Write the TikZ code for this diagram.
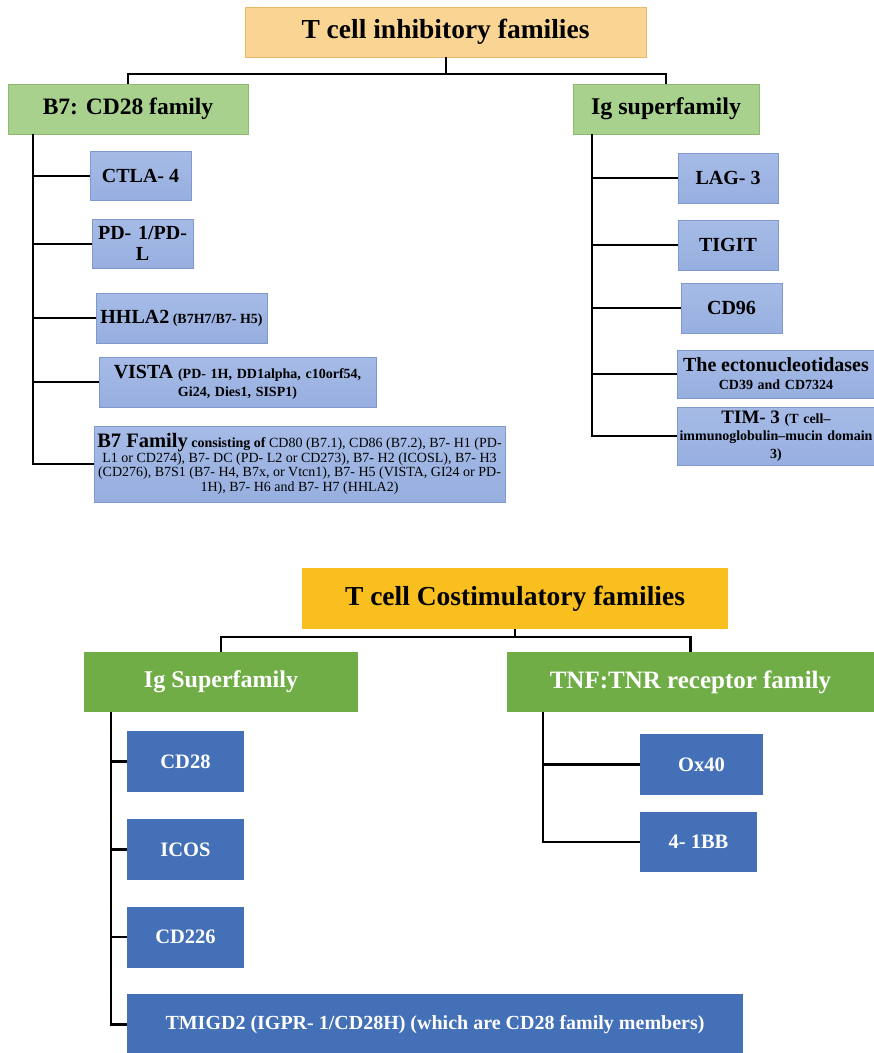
\documentclass[tikz,border=0pt]{standalone}
\usepackage{fontspec}
\setmainfont{Liberation Serif}
\newcommand{\fs}[2]{\fontsize{#1}{#2}\selectfont}
\definecolor{orL}{HTML}{FAD493}
\definecolor{orLb}{HTML}{E9B96A}
\definecolor{grL}{HTML}{A9D18E}
\definecolor{grLb}{HTML}{8CBB6E}
\definecolor{blL}{HTML}{97AFE0}
\definecolor{blLt}{HTML}{A6BBE6}
\definecolor{blLb}{HTML}{7F99CF}
\definecolor{orD}{HTML}{F8BF1F}
\definecolor{grD}{HTML}{70AD47}
\definecolor{blD}{HTML}{4470B8}
\tikzset{
  base/.style={inner sep=1pt, align=center},
  ititle/.style={base, draw=orLb, line width=0.8pt, fill=orL},
  igreen/.style={base, draw=grLb, line width=0.8pt, fill=grL},
  iblue/.style={base, draw=blLb, line width=0.8pt, top color=blLt, bottom color=blL},
  ctitle/.style={base, fill=orD},
  cgreen/.style={base, fill=grD, text=white},
  cblue/.style={base, fill=blD, text=white},
  conn/.style={line width=2pt, black},
  conn2/.style={line width=2.6pt, black},
}
\begin{document}
\begin{tikzpicture}[x=1pt,y=-1pt]
\useasboundingbox (0,0) rectangle (874,1053);
\clip (0,0) rectangle (874,1053);
% ---------------- inhibitory ----------------
\node[ititle, minimum width=401pt, minimum height=50pt, font=\bfseries\fs{27.5}{30}] (ti) at (445.5,32) {T cell inhibitory families};
\node[igreen, minimum width=240pt, minimum height=50pt, font=\bfseries\fs{23.5}{26}] (b7) at (128,109) {B7: CD28 family};
\node[igreen, minimum width=186pt, minimum height=50pt, font=\bfseries\fs{24}{26}] (igs) at (666,109) {Ig superfamily};
\coordinate (j1) at (445.5,74);
\draw[conn] (ti.south) -- (j1) -| (b7.north);
\draw[conn] (j1) -| (igs.north);

\node[iblue, minimum width=101pt, minimum height=49pt, font=\bfseries\fs{20}{22}] (ctla) at (140.5,175.5) {CTLA- 4};
\node[iblue, minimum width=101pt, minimum height=49pt, text width=99pt, font=\bfseries\fs{20}{21}] (pdl) at (142.5,243.5) {PD- 1/PD-\\L};
\node[iblue, minimum width=171pt, minimum height=50pt, font=\bfseries\fs{14}{16}] (hhla) at (181.5,318) {{\fs{20}{20}HHLA2} (B7H7/B7- H5)};
\node[iblue, minimum width=277pt, minimum height=50pt, text width=273pt, font=\bfseries\fs{14}{18}] (vista) at (237.5,382) {{\fs{20}{18}VISTA} (PD- 1H, DD1alpha, c10orf54,\\Gi24, Dies1, SISP1)};
\node[iblue, minimum width=411pt, minimum height=76pt, font=\fs{14}{14.5}] (b7f) at (299.5,464) {{\bfseries\fs{20.5}{14.5}B7 Family} {\bfseries consisting of} CD80 (B7.1), CD86 (B7.2), B7- H1 (PD-\\L1 or CD274), B7- DC (PD- L2 or CD273), B7- H2 (ICOSL), B7- H3\\(CD276), B7S1 (B7- H4, B7x, or Vtcn1), B7- H5 (VISTA, GI24 or PD-\\1H), B7- H6 and B7- H7 (HHLA2)};
\coordinate (v1) at (33,134);
\draw[conn] (v1) |- (b7f.west);
\draw[conn] (v1 |- ctla.west) -- (ctla.west);
\draw[conn] (v1 |- pdl.west) -- (pdl.west);
\draw[conn] (v1 |- hhla.west) -- (hhla.west);
\draw[conn] (v1 |- vista.west) -- (vista.west);

\node[iblue, minimum width=100pt, minimum height=50pt, font=\bfseries\fs{20}{22}] (lag) at (728,178) {LAG- 3};
\node[iblue, minimum width=100pt, minimum height=50pt, font=\bfseries\fs{20}{22}] (tigit) at (728,245) {TIGIT};
\node[iblue, minimum width=101pt, minimum height=50pt, font=\bfseries\fs{20}{22}] (cd96) at (731.5,308) {CD96};
\node[iblue, minimum width=198pt, minimum height=48pt, text width=196pt, font=\bfseries\fs{14}{18}] (ecto) at (776,374) {{\fs{20}{18}The ectonucleotidases}\\CD39 and CD7324};
\node[iblue, minimum width=198pt, minimum height=58pt, text width=196pt, font=\bfseries\fs{14}{17.5}] (tim) at (776,436) {{\fs{19}{17.5}TIM- 3} (T cell–\\immunoglobulin–mucin domain\\3)};
\coordinate (v2) at (592,134);
\draw[conn] (v2) |- (tim.west);
\draw[conn] (v2 |- lag.west) -- (lag.west);
\draw[conn] (v2 |- tigit.west) -- (tigit.west);
\draw[conn] (v2 |- cd96.west) -- (cd96.west);
\draw[conn] (v2 |- ecto.west) -- (ecto.west);

% ---------------- costimulatory ----------------
\node[ctitle, minimum width=426pt, minimum height=61pt, font=\bfseries\fs{27.5}{30}] (tc) at (515,598.5) {T cell Costimulatory families};
\node[cgreen, minimum width=274pt, minimum height=60pt, font=\bfseries\fs{24}{26}] (igS) at (221,682) {Ig Superfamily};
\node[cgreen, minimum width=367pt, minimum height=60pt, font=\bfseries\fs{25}{27}] (tnf) at (690.5,682) {TNF:TNR receptor family};
\coordinate (j2) at (515,637);
\draw[conn2] (tc.south) -- (j2) -| (igS.north);
\draw[conn2] (j2) -| (tnf.north);

\node[cblue, minimum width=117pt, minimum height=61pt, font=\bfseries\fs{20.5}{22}] (cd28) at (185.5,761.5) {CD28};
\node[cblue, minimum width=117pt, minimum height=61pt, font=\bfseries\fs{20.5}{22}] (icos) at (185.5,849.5) {ICOS};
\node[cblue, minimum width=117pt, minimum height=61pt, font=\bfseries\fs{20.5}{22}] (cd226) at (185.5,937) {CD226};
\node[cblue, minimum width=616pt, minimum height=61pt, font=\bfseries\fs{20}{22}] (tmigd) at (435,1024.5) {TMIGD2 (IGPR- 1/CD28H) (which are CD28 family members)};
\coordinate (v3) at (111,712);
\draw[conn2] (v3) |- (tmigd.west);
\draw[conn2] (v3 |- cd28.west) -- (cd28.west);
\draw[conn2] (v3 |- icos.west) -- (icos.west);
\draw[conn2] (v3 |- cd226.west) -- (cd226.west);

\node[cblue, minimum width=123pt, minimum height=61pt, font=\bfseries\fs{20.5}{22}] (ox40) at (701.5,764.5) {Ox40};
\node[cblue, minimum width=117pt, minimum height=60pt, font=\bfseries\fs{20.5}{22}] (b4) at (698.5,842) {4- 1BB};
\coordinate (v4) at (543,712);
\draw[conn2] (v4) |- (b4.west);
\draw[conn2] (v4 |- ox40.west) -- (ox40.west);
\end{tikzpicture}
\end{document}
